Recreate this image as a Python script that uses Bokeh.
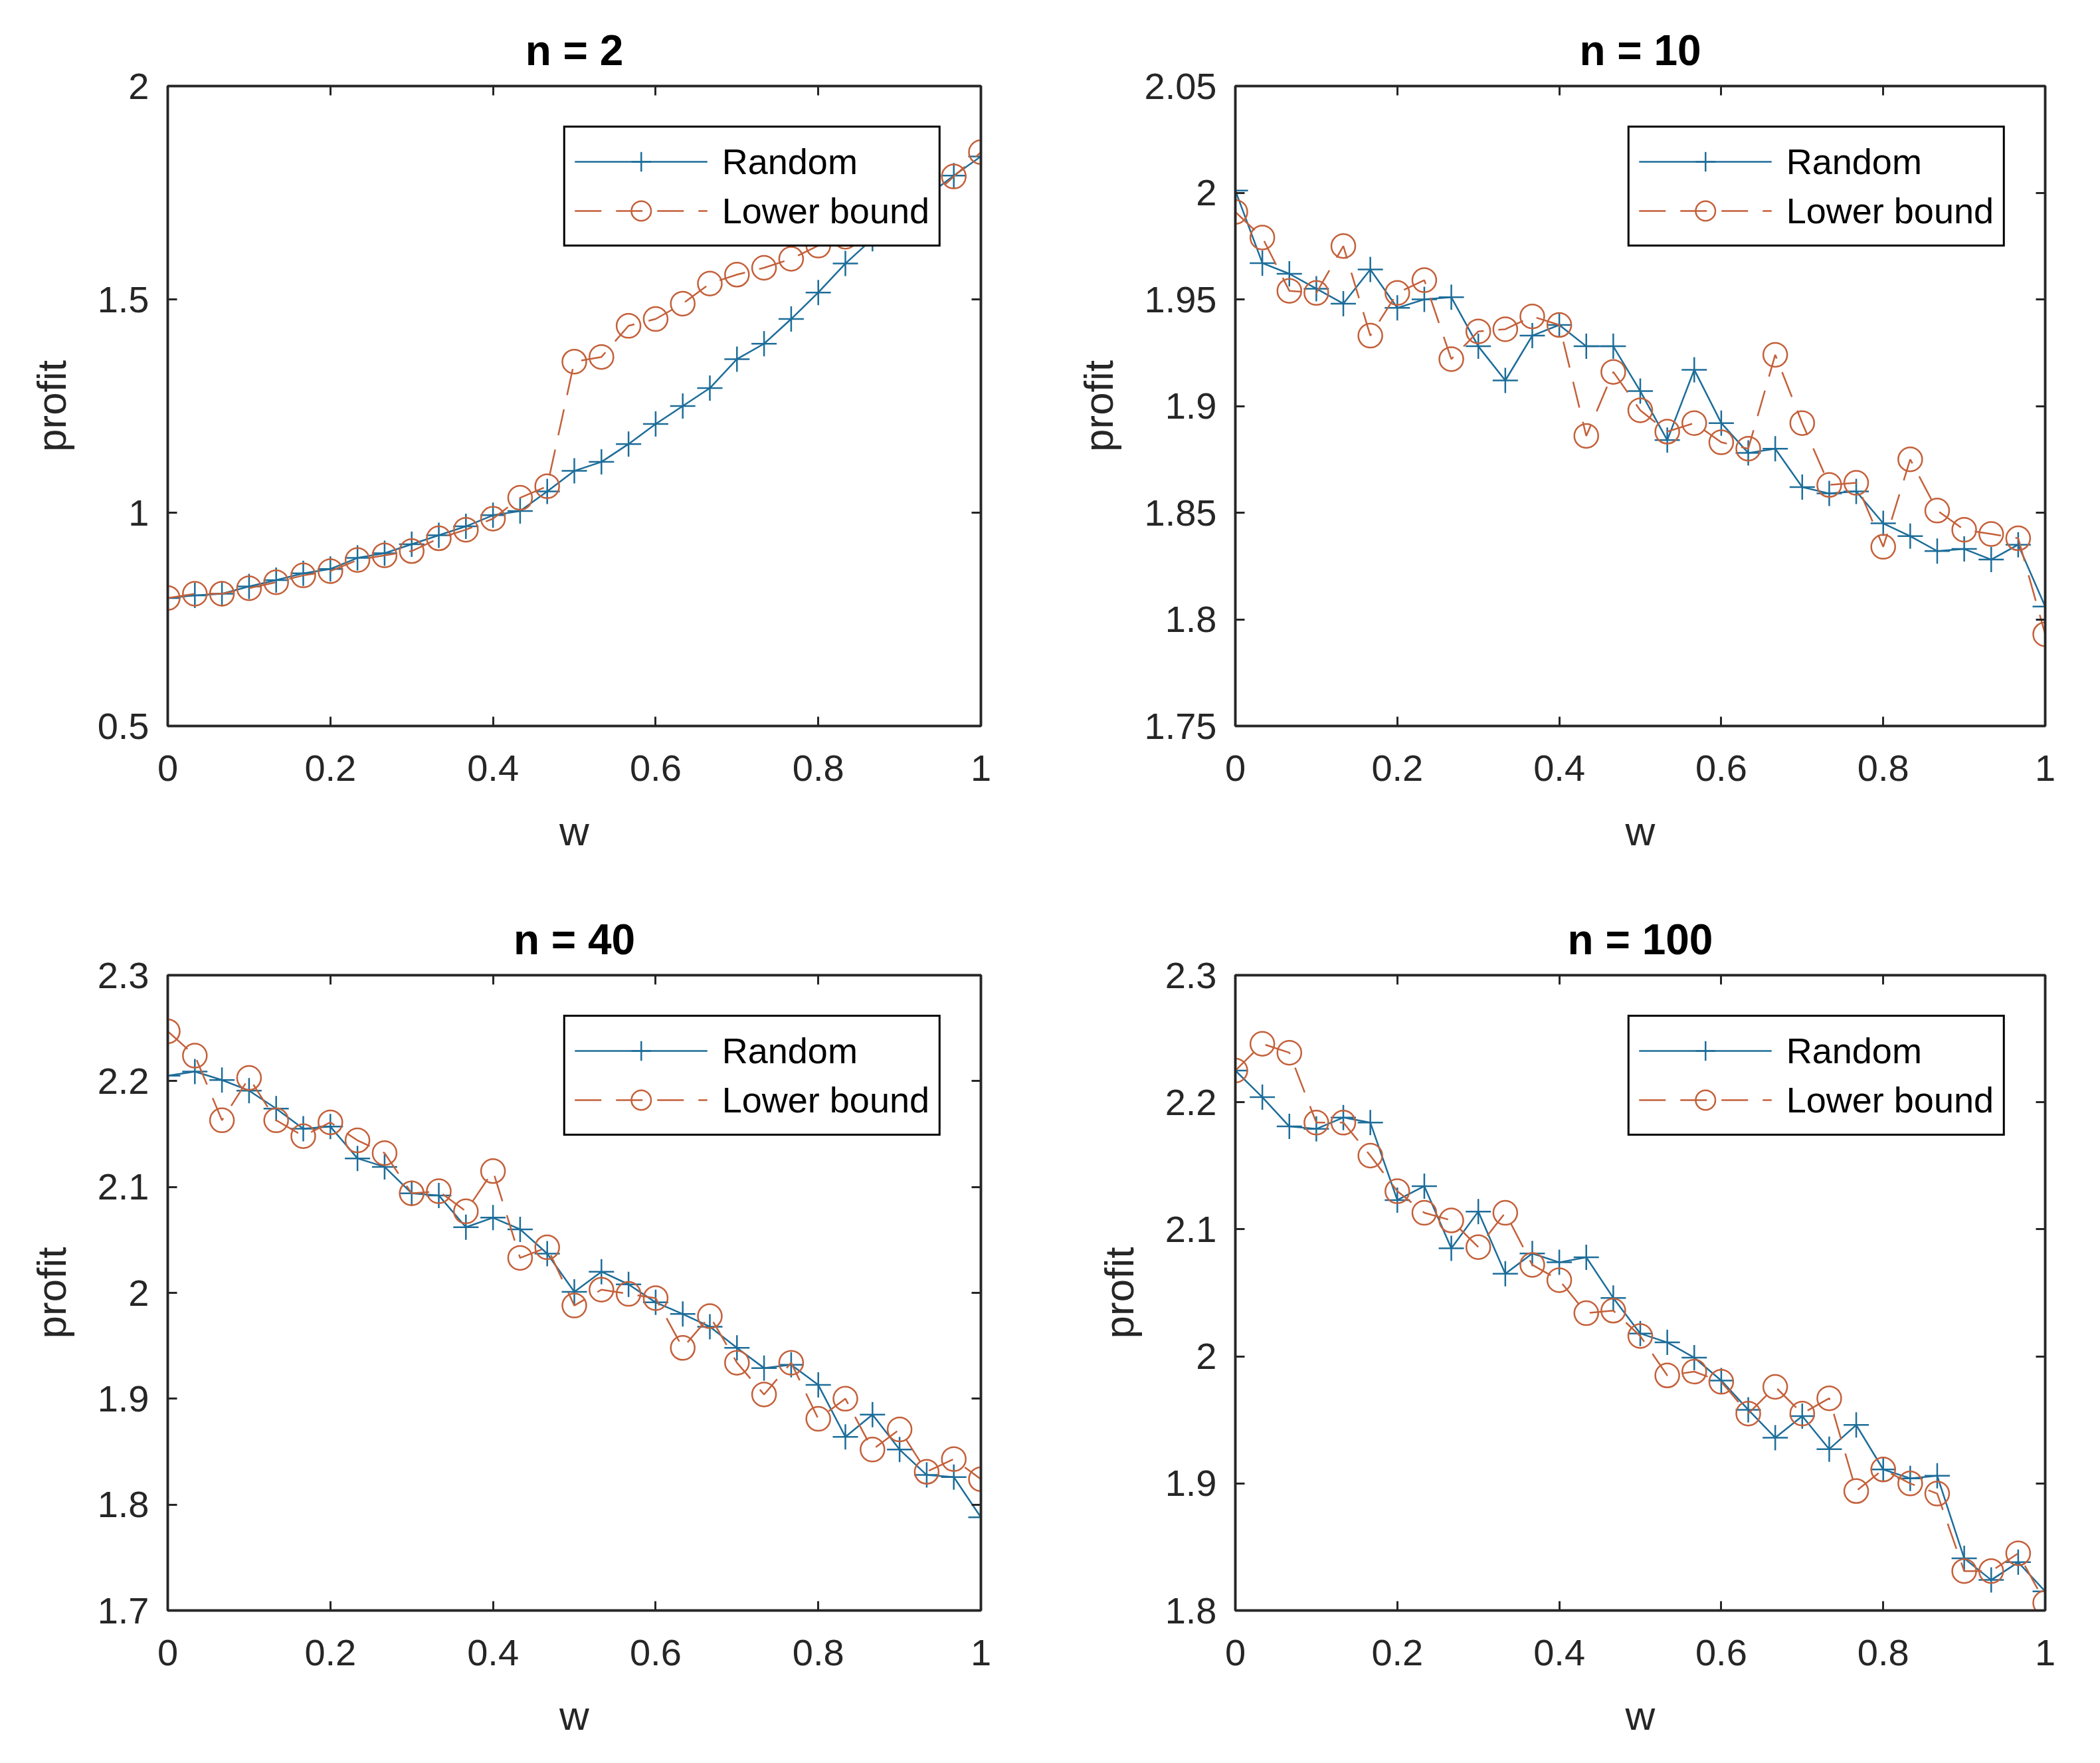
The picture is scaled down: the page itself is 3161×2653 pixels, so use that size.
from bokeh.plotting import figure
from bokeh.models import (Range1d, FixedTicker, LinearAxis, CustomJSTickFormatter,
                          CustomLabelingPolicy, Legend, LegendItem)
from bokeh.layouts import column, row
from bokeh.embed import file_html
from bokeh.resources import INLINE

# ---------------- data ----------------
w = [i / 30 for i in range(31)]

titles = ["n = 2", "n = 10", "n = 40", "n = 100"]

random_n2 = [0.800, 0.806, 0.810, 0.827, 0.842, 0.858, 0.868, 0.894, 0.905, 0.926,
             0.947, 0.968, 0.994, 1.004, 1.050, 1.098, 1.119, 1.161, 1.208, 1.250,
             1.292, 1.360, 1.396, 1.454, 1.516, 1.584, 1.642, 1.700, 1.742, 1.790, 1.835]
lower_n2 = [0.800, 0.810, 0.810, 0.823, 0.837, 0.853, 0.863, 0.889, 0.900, 0.910,
            0.940, 0.960, 0.986, 1.035, 1.062, 1.354, 1.365, 1.438, 1.454, 1.490,
            1.537, 1.558, 1.574, 1.595, 1.626, 1.647, 1.672, 1.700, 1.730, 1.788, 1.845]

random_n10 = [2.001, 1.967, 1.962, 1.955, 1.948, 1.964, 1.946, 1.950, 1.951, 1.928,
              1.912, 1.933, 1.938, 1.928, 1.928, 1.907, 1.884, 1.917, 1.892, 1.878,
              1.880, 1.862, 1.859, 1.860, 1.845, 1.839, 1.832, 1.833, 1.828, 1.835, 1.806]
lower_n10 = [1.991, 1.979, 1.954, 1.953, 1.975, 1.933, 1.953, 1.959, 1.922, 1.935,
             1.936, 1.942, 1.938, 1.886, 1.916, 1.898, 1.888, 1.892, 1.883, 1.880,
             1.924, 1.892, 1.863, 1.864, 1.834, 1.875, 1.851, 1.842, 1.840, 1.838, 1.793]

random_n40 = [2.205, 2.209, 2.201, 2.191, 2.174, 2.155, 2.157, 2.127, 2.119, 2.094,
              2.092, 2.062, 2.071, 2.060, 2.037, 2.001, 2.020, 2.008, 1.991, 1.980,
              1.968, 1.948, 1.929, 1.932, 1.913, 1.864, 1.885, 1.852, 1.828, 1.826, 1.788]
lower_n40 = [2.247, 2.224, 2.163, 2.203, 2.163, 2.148, 2.161, 2.144, 2.132, 2.094,
             2.096, 2.077, 2.115, 2.033, 2.043, 1.988, 2.003, 1.999, 1.995, 1.948,
             1.978, 1.934, 1.904, 1.934, 1.881, 1.900, 1.852, 1.871, 1.831, 1.843, 1.824]

random_n100 = [2.225, 2.204, 2.181, 2.179, 2.188, 2.184, 2.123, 2.134, 2.085, 2.114,
               2.065, 2.081, 2.074, 2.078, 2.046, 2.018, 2.011, 1.999, 1.981, 1.958,
               1.936, 1.953, 1.927, 1.946, 1.911, 1.904, 1.906, 1.841, 1.824, 1.838, 1.815]
lower_n100 = [2.225, 2.246, 2.239, 2.184, 2.184, 2.158, 2.130, 2.113, 2.107, 2.086,
              2.113, 2.072, 2.060, 2.034, 2.036, 2.016, 1.985, 1.988, 1.980, 1.955,
              1.976, 1.955, 1.967, 1.894, 1.911, 1.900, 1.892, 1.831, 1.831, 1.845, 1.806]

x_ticks = [0, 0.2, 0.4, 0.6, 0.8, 1]
y_ticks = [
    [0.5, 1, 1.5, 2],
    [1.75, 1.8, 1.85, 1.9, 1.95, 2, 2.05],
    [1.7, 1.8, 1.9, 2.0, 2.1, 2.2, 2.3],
    [1.8, 1.9, 2.0, 2.1, 2.2, 2.3],
]
y_ranges = [(0.5, 2.0), (1.75, 2.05), (1.7, 2.3), (1.8, 2.3)]
series_random = [random_n2, random_n10, random_n40, random_n100]
series_lower = [lower_n2, lower_n10, lower_n40, lower_n100]

# ---------------- style ----------------
BLUE = "#1d6d99"
ORANGE = "#c4603a"
AX = "#262626"
FONT = "Liberation Sans"
TICK_FS = "56px"
LABEL_FS = "62px"
TITLE_FS = "64px"
LEGEND_FS = "54px"

fmt = CustomJSTickFormatter(code="return String(Number(tick.toFixed(4)));")
no_labels = CustomLabelingPolicy(code="for (const i of Array.from(indices)) { indices.unset(i) } return indices;")

# (border_left, frame_w, border_right, border_top, frame_h, border_bottom)
geom = [
    (252, 1224, 100, 129, 963, 248),
    (283, 1219, 67, 129, 963, 248),
    (252, 1224, 100, 127, 956, 214),
    (283, 1219, 67, 127, 956, 214),
]


def style_axis(ax, ticks, labels=True):
    ax.ticker = FixedTicker(ticks=ticks)
    ax.formatter = fmt
    ax.major_tick_in = 14
    ax.major_tick_out = 0
    ax.minor_tick_in = 0
    ax.minor_tick_out = 0
    ax.major_tick_line_color = AX
    ax.major_tick_line_width = 3
    ax.axis_line_color = AX
    ax.axis_line_width = 3.5
    ax.major_label_text_font = FONT
    ax.major_label_text_font_size = TICK_FS
    ax.major_label_text_color = AX
    if not labels:
        ax.major_label_policy = no_labels
        ax.major_label_text_font_size = "1px"
        ax.major_label_standoff = 0


panels = []
for k in range(4):
    bl, fw, br, bt, fh, bb = geom[k]
    p = figure(frame_width=fw, frame_height=fh,
               min_border_left=bl, min_border_right=br,
               min_border_top=bt, min_border_bottom=bb,
               x_range=Range1d(0, 1), y_range=Range1d(*y_ranges[k]),
               output_backend="svg", toolbar_location=None,
               title=titles[k])
    p.grid.visible = False
    p.outline_line_color = AX
    p.outline_line_width = 3.5
    p.background_fill_color = "white"
    p.border_fill_color = "white"

    p.title.align = "center"
    p.title.text_font = FONT
    p.title.text_font_size = TITLE_FS
    p.title.text_font_style = "bold"
    p.title.text_color = "black"
    p.title.standoff = 28

    style_axis(p.xaxis[0], x_ticks)
    style_axis(p.yaxis[0], y_ticks[k])
    p.xaxis[0].major_label_standoff = 44
    p.yaxis[0].major_label_standoff = 28
    for ax, lab in ((p.xaxis[0], "w"), (p.yaxis[0], "profit")):
        ax.axis_label = lab
        ax.axis_label_text_font = FONT
        ax.axis_label_text_font_size = LABEL_FS
        ax.axis_label_text_font_style = "normal"
        ax.axis_label_text_color = AX
    p.xaxis[0].axis_label_standoff = 38
    p.yaxis[0].axis_label_standoff = 32

    top_ax = LinearAxis()
    style_axis(top_ax, x_ticks, labels=False)
    p.add_layout(top_ax, "above")
    right_ax = LinearAxis()
    style_axis(right_ax, y_ticks[k], labels=False)
    p.add_layout(right_ax, "right")

    r_line = p.line(w, series_random[k], line_color=BLUE, line_width=2.5)
    r_mark = p.scatter(w, series_random[k], marker="cross", size=38,
                       line_color=BLUE, line_width=2.5)
    l_line = p.line(w, series_lower[k], line_color=ORANGE, line_width=2.5,
                    line_dash="40 22")
    l_mark = p.scatter(w, series_lower[k], marker="circle", size=36,
                       line_color=ORANGE, line_width=2.5, fill_color=None)

    legend = Legend(items=[LegendItem(label="Random", renderers=[r_line, r_mark]),
                           LegendItem(label="Lower bound", renderers=[l_line, l_mark])],
                    location="top_right")
    legend.margin = 60
    legend.padding = 14
    legend.spacing = 0
    legend.glyph_width = 200
    legend.glyph_height = 74
    legend.label_height = 74
    legend.label_standoff = 22
    legend.label_text_font = FONT
    legend.label_text_font_size = LEGEND_FS
    legend.label_text_color = "black"
    legend.border_line_color = "black"
    legend.border_line_alpha = 1.0
    legend.border_line_width = 3.5
    legend.background_fill_color = "white"
    legend.background_fill_alpha = 1.0
    p.add_layout(legend, "center")
    panels.append(p)

layout = column(row(panels[0], panels[1], spacing=0),
                row(panels[2], panels[3], spacing=0), spacing=0)

open("out.html", "w").write(file_html(layout, INLINE))
